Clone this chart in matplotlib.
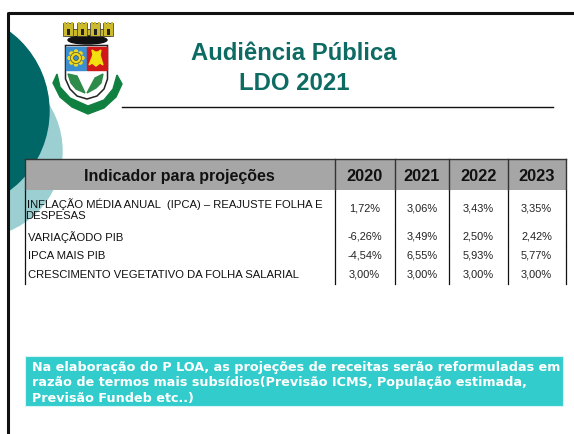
import matplotlib
matplotlib.use("Agg")
import numpy as np
import matplotlib.pyplot as plt
from matplotlib.patches import Circle, Ellipse, Polygon, Rectangle

plt.rcParams['font.family'] = ['Liberation Sans', 'DejaVu Sans']

header = "Indicador para projeções"
years = ["2020", "2021", "2022", "2023"]
indicators = ["INFLAÇÃO MÉDIA ANUAL  (IPCA) – REAJUSTE FOLHA E\nDESPESAS",
              "VARIAÇÃODO PIB",
              "IPCA MAIS PIB",
              "CRESCIMENTO VEGETATIVO DA FOLHA SALARIAL"]
values_2020 = ["1,72%", "-6,26%", "-4,54%", "3,00%"]
values_2021 = ["3,06%", "3,49%", "6,55%", "3,00%"]
values_2022 = ["3,43%", "2,50%", "5,93%", "3,00%"]
values_2023 = ["3,35%", "2,42%", "5,77%", "3,00%"]
note = ("Na elaboração do P LOA, as projeções de receitas serão reformuladas em\n"
        "razão de termos mais subsídios(Previsão ICMS, População estimada,\n"
        "Previsão Fundeb etc..)")

fig = plt.figure(figsize=(5.74, 4.35), dpi=100)
ax = fig.add_axes([0, 0, 1, 1])
ax.set_xlim(0, 574)
ax.set_ylim(435, 0)
ax.axis("off")

# circles behind, clipped to the frame
frame_clip = Rectangle((8, 14), 566, 421, transform=ax.transData)
light = Circle((-24, 152), 86, color="#9bcfd1", zorder=1)
dark = Circle((-49.5, 112), 98.5, color="#006666", zorder=2)
ax.add_patch(light)
ax.add_patch(dark)
light.set_clip_path(frame_clip)
dark.set_clip_path(frame_clip)

# frame
ax.plot([7.5, 7.5, 574], [435, 13.5, 13.5], color="#111111", lw=2.2, zorder=3, solid_capstyle="butt")

# coat of arms, rough shapes
ax.add_patch(Rectangle((67, 30), 43, 7, fc="#c8b82a", ec="#222222", lw=0.5, zorder=4))
for cx in (68, 82, 95, 108):
    ax.add_patch(Rectangle((cx - 5, 24), 10, 13, fc="#cbbb2c", ec="#333333", lw=0.5, zorder=5))
    for mx in (-3.5, 0, 3.5):
        ax.add_patch(Rectangle((cx + mx - 1, 22.5), 2, 2, fc="#cbbb2c", ec="none", zorder=5))
    ax.add_patch(Rectangle((cx - 1.5, 30), 3, 6, fc="#222222", ec="none", zorder=6))
ax.add_patch(Ellipse((87.5, 41), 39, 8, color="#111111", zorder=4))

# ribbon goes under the shield
ax.add_patch(Polygon([(57, 75), (53, 84), (60, 98), (72, 108), (88, 115), (104, 109), (116, 98), (122, 85),
                      (117, 76), (113, 90), (104, 101), (88, 107), (70, 99), (60, 88)],
                     closed=True, color="#108040", zorder=4))

ax.add_patch(Polygon([(65.5, 46.5), (107.5, 46.5), (107.5, 80), (104, 90), (97, 97), (87, 100), (77, 97), (70, 90), (65.5, 80)],
                     closed=True, fc="white", ec="#222222", lw=1.1, zorder=5))
ax.add_patch(Rectangle((66, 47.5), 20, 23.5, color="#3b8fd0", zorder=6))
ax.add_patch(Rectangle((87, 47.5), 20, 23.5, color="#d01818", zorder=6))
for a in np.arange(0, 360, 45):
    tx, ty = 76 + 6.5 * np.cos(np.radians(a)), 59 + 6.5 * np.sin(np.radians(a))
    ax.add_patch(Circle((tx, ty), 1.5, color="#f0d81c", zorder=7))
ax.add_patch(Circle((76, 59), 5.5, fc="#f0d81c", ec="#333333", lw=0.4, zorder=7))
ax.add_patch(Circle((76, 59), 2.4, fc="#3b8fd0", ec="#333333", lw=0.4, zorder=8))
ax.add_patch(Polygon([(92, 51), (95, 53), (98, 53), (101, 51), (100, 56), (103, 66), (100, 64), (96, 67), (92, 64), (89, 66), (93, 56)],
                     closed=True, color="#f2e10f", zorder=7))
ax.add_patch(Polygon([(68, 75), (77, 77), (85, 94), (76, 90), (71, 84)], closed=True, color="#2e8b4a", zorder=7))
ax.add_patch(Polygon([(103, 75), (95, 79), (87, 94), (96, 89), (101, 84)], closed=True, color="#2e8b4a", zorder=7))

# title
ax.text(294, 54, "Audiência Pública", color="#0d6b63", fontsize=17.2, fontweight="bold", ha="center", va="center", zorder=6)
ax.text(294, 84, "LDO 2021", color="#0d6b63", fontsize=17.2, fontweight="bold", ha="center", va="center", zorder=6)
ax.plot([122, 553], [108, 108], color="#111111", lw=1, zorder=6)

# table
col_edges = [25, 334.5, 394.5, 449, 507.5, 565.5]
row_tops = [192, 227, 247, 265]
row_bottoms = [226, 246, 264, 285]
row_mid = [209, 237, 256, 275]

ax.add_patch(Rectangle((col_edges[0], 160), col_edges[-1] - col_edges[0], 31, fc="#a6a6a6", ec="none", zorder=6))
ax.plot([col_edges[0], col_edges[-1]], [160, 160], color="#333333", lw=1, zorder=7)
for x in col_edges:
    ax.plot([x, x], [160, 191], color="#333333", lw=1, zorder=7)
    for t, b in zip(row_tops, row_bottoms):
        ax.plot([x, x], [t, b], color="#111111", lw=0.9, zorder=7)

ax.text(179.5, 177, header, fontsize=11.5, fontweight="bold", color="#111111", ha="center", va="center", zorder=8)
centers = [(col_edges[i] + col_edges[i + 1]) / 2 for i in range(1, 5)]
for cx, year in zip(centers, years):
    ax.text(cx, 176.5, year, fontsize=11.8, fontweight="bold", color="#111111", ha="center", va="center", zorder=8)

ax.text(27, 204, indicators[0].split("\n")[0], fontsize=8.1, color="#111111", ha="left", va="center", zorder=8)
ax.text(25, 216, indicators[0].split("\n")[1], fontsize=8.1, color="#111111", ha="left", va="center", zorder=8)
for i in range(1, 4):
    ax.text(28, row_mid[i], indicators[i], fontsize=8.1, color="#111111", ha="left", va="center", zorder=8)

for cx, col in zip(centers, [values_2020, values_2021, values_2022, values_2023]):
    for y, v in zip(row_mid, col):
        ax.text(cx, y, v, fontsize=7.9, color="#222222", ha="center", va="center", zorder=8)

# note box
ax.add_patch(Rectangle((25, 357), 538, 50, fc="#33cccc", ec="#d8f5f5", lw=0.8, zorder=6))
ax.text(32, 383, note, family=["DejaVu Sans"], fontsize=9.17, fontweight="bold", color="white",
        ha="left", va="center", linespacing=1.23, zorder=8)

fig.savefig("out.png", dpi=100)
